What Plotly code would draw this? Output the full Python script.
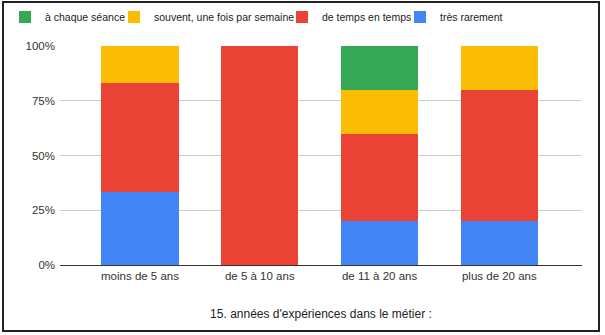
import plotly.graph_objects as go

categories = ["moins de 5 ans", "de 5 à 10 ans", "de 11 à 20 ans", "plus de 20 ans"]
series_names = ["très rarement", "de temps en temps", "souvent, une fois par semaine", "à chaque séance"]
tres_rarement = [33.33, 0, 20, 20]
de_temps_en_temps = [50.0, 100, 40, 60]
souvent = [16.67, 0, 20, 20]
a_chaque_seance = [0, 0, 20, 0]
colors = ["#4285F4", "#EA4335", "#FBBC04", "#34A853"]
y_ticks = [0, 25, 50, 75, 100]
y_tick_labels = ["0%", "25%", "50%", "75%", "100%"]
x_title = "15. années d'expériences dans le métier :"

W, H = 605, 335
L, R, T, B = 60, 23, 46, 70
pw, ph = W - L - R, H - T - B

def px(x):
    return (x - L) / pw

def py(y):
    return (H - B - y) / ph

# legend text start pixel for each series (same order as series_names)
legend_text_x = [436, 318, 150, 41]
legend_ids = ["legend4", "legend3", "legend2", "legend"]

fig = go.Figure()
for name, vals, col, lid in zip(series_names, [tres_rarement, de_temps_en_temps, souvent, a_chaque_seance], colors, legend_ids):
    fig.add_trace(go.Bar(x=categories, y=vals, name=name, legend=lid,
                         marker=dict(color=col, line=dict(width=0))))

legend_common = dict(orientation="h", xref="container", yref="container", yanchor="middle", xanchor="left",
                     y=1 - 17 / H, font=dict(size=10.5, color="#222222"), bgcolor="rgba(0,0,0,0)")
legends = {}
for lid, tx in zip(legend_ids, legend_text_x):
    legends[lid] = dict(legend_common, x=(tx - 36) / W)

fig.update_layout(
    width=W, height=H,
    margin=dict(l=L, r=R, t=T, b=B, autoexpand=False),
    barmode="stack",
    bargap=0.355,
    paper_bgcolor="white", plot_bgcolor="white",
    font=dict(family="Liberation Sans, Arial, sans-serif", color="#222222"),
    showlegend=True,
    xaxis=dict(range=[-0.668, 3.69], showgrid=False, showline=True, linecolor="#333333", linewidth=1,
               tickfont=dict(size=11.5, color="#333333"), ticks="",
               title=dict(text=x_title, font=dict(size=12, color="#222222"), standoff=28)),
    yaxis=dict(range=[0, 100], tickvals=y_ticks, ticktext=y_tick_labels, showgrid=True, gridcolor="#cccccc",
               gridwidth=1, zeroline=False, showline=False, ticks="", tickfont=dict(size=11.5, color="#333333"),
               ticklabelstandoff=4),
    shapes=[dict(type="rect", xref="paper", yref="paper", x0=px(3), x1=px(599), y0=py(331), y1=py(2),
                 line=dict(color="#222222", width=2), fillcolor="rgba(0,0,0,0)", layer="above")],
    **legends,
)

fig.write_html("out.html")
